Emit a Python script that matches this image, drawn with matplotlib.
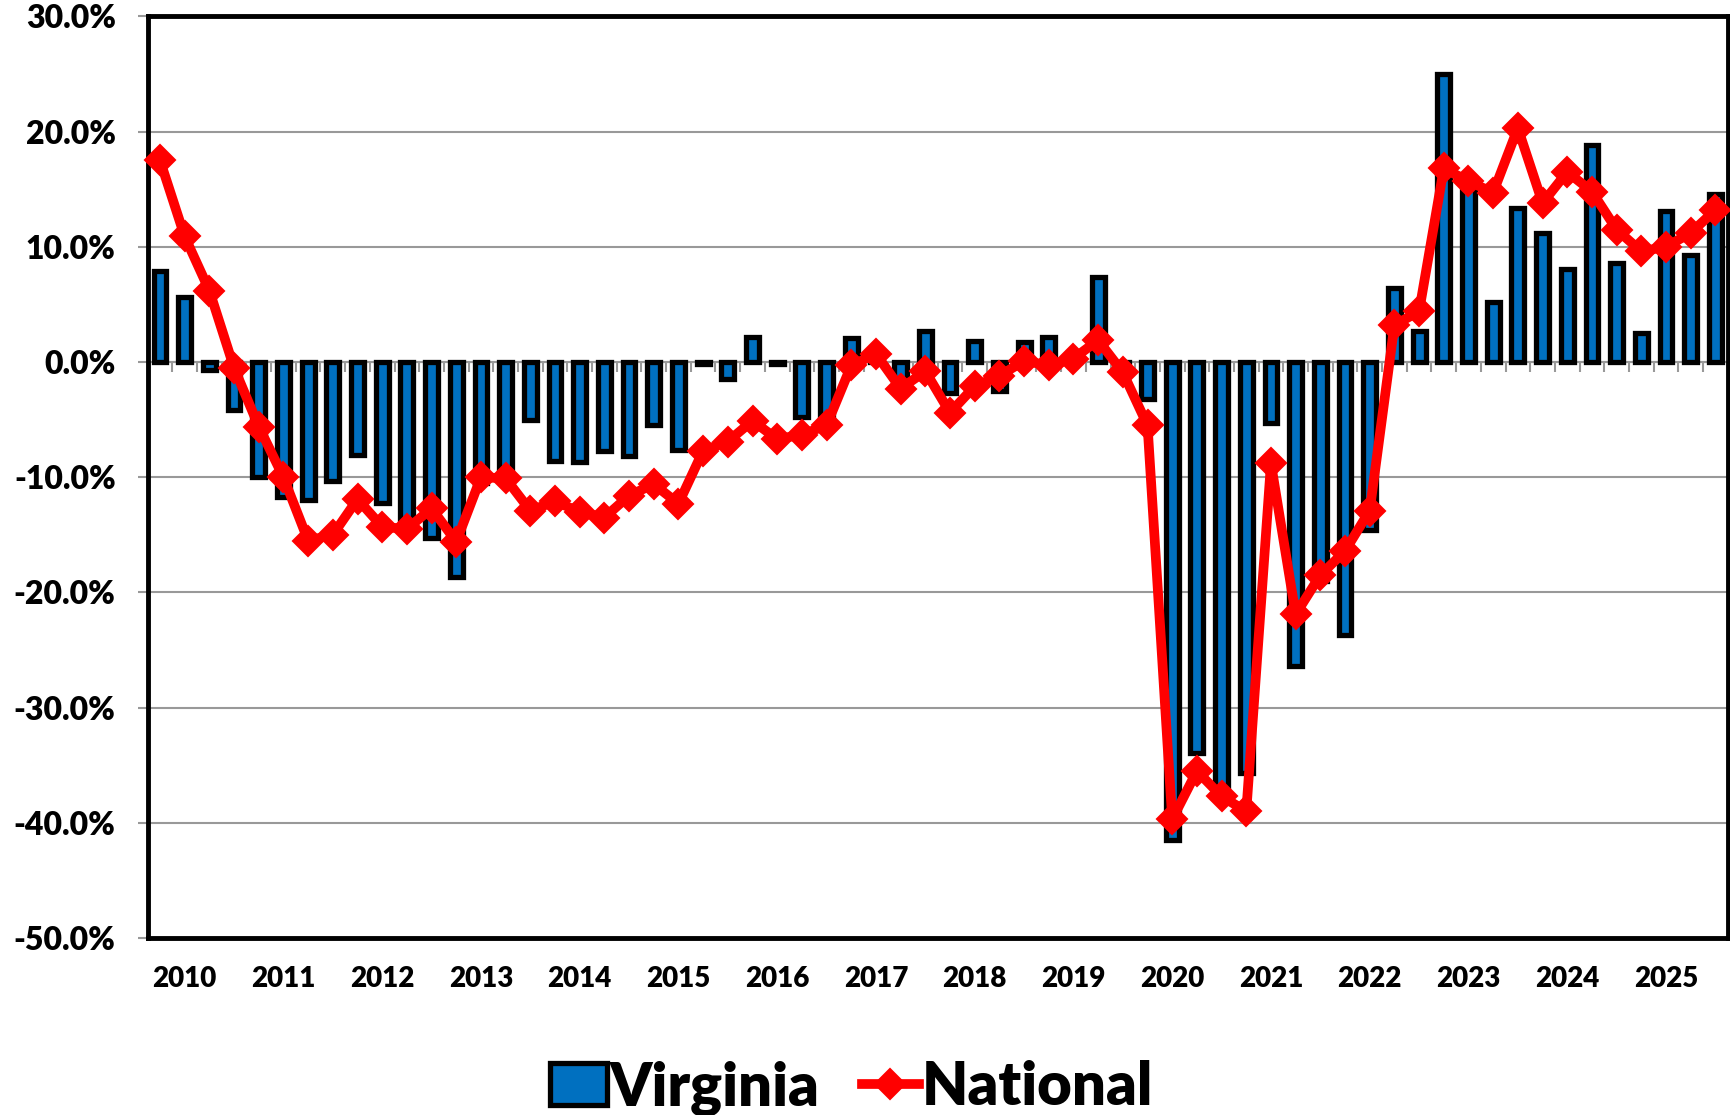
import matplotlib
matplotlib.use("Agg")
import matplotlib.pyplot as plt
from matplotlib.ticker import FuncFormatter
import numpy as np

# quarterly year-over-year change, 2010 Q1 .. 2025 Q4 (percent)
year_labels = [str(y) for y in range(2010, 2026)]

virginia = [
    7.9, 5.6, -0.7, -4.2,
    -10.0, -11.7, -12.0, -10.3,
    -8.1, -12.2, -14.0, -15.3,
    -18.7, -10.5, -10.2, -5.0,
    -8.6, -8.7, -7.7, -8.2,
    -5.5, -7.6, -0.2, -1.5,
    2.2, -0.2, -4.8, -5.2,
    2.1, 0.5, -2.5, 2.7,
    -2.7, 1.8, -2.5, 1.7,
    2.2, 0.4, 7.4, -0.8,
    -3.2, -41.5, -33.9, -37.5,
    -35.7, -5.3, -26.4, -19.0,
    -23.7, -14.6, 6.4, 2.7,
    25.0, 15.3, 5.2, 13.4,
    11.2, 8.1, 18.8, 8.6,
    2.5, 13.1, 9.3, 14.6,
]

national = [
    17.5, 10.9, 6.2, -0.5,
    -5.6, -10.0, -15.5, -15.0,
    -11.9, -14.3, -14.5, -12.7,
    -15.6, -10.0, -10.1, -12.9,
    -12.1, -13.0, -13.5, -11.6,
    -10.6, -12.3, -7.7, -6.9,
    -5.1, -6.7, -6.3, -5.5,
    -0.3, 0.7, -2.3, -0.8,
    -4.4, -2.1, -1.2, 0.1,
    -0.3, 0.3, 1.9, -0.9,
    -5.5, -39.7, -35.5, -37.7,
    -39.0, -8.8, -21.9, -18.5,
    -16.4, -12.9, 3.2, 4.4,
    16.8, 15.7, 14.7, 20.3,
    13.8, 16.5, 14.8, 11.5,
    9.6, 10.0, 11.2, 13.2,
]

plt.rcParams['font.family'] = ['Lato', 'DejaVu Sans']
plt.rcParams['font.weight'] = 'heavy'

fig = plt.figure(figsize=(17.31, 11.15), dpi=100)
ax = fig.add_axes([0.0853, 0.1587, 0.9128, 0.8266])

x = np.arange(len(virginia))
bars = ax.bar(x, virginia, width=0.52, color='#0070C0', edgecolor='black',
              linewidth=3.8, zorder=3, label='Virginia')
line, = ax.plot(x, national, color='#FF0000', lw=7, marker='D', ms=15,
                mec='#FF0000', mew=1.5, zorder=4, clip_on=False, label='National')

ymin, ymax = -50, 30
ax.set_xlim(-0.5, len(x) - 0.5)
ax.set_ylim(ymin, ymax)
ax.set_yticks(np.arange(ymin, ymax + 1, 10))
ax.yaxis.set_major_formatter(FuncFormatter(lambda v, _: f'{v:.1f}%'))
ax.yaxis.grid(True, color='#999999', lw=1.5, zorder=0)
ax.set_axisbelow(True)

ax.set_xticks(x[1::4])
ax.set_xticklabels(year_labels)
ax.tick_params(axis='x', length=0, pad=20, labelsize=20)
ax.tick_params(axis='y', length=7, width=1.5, color='#999999', pad=16, labelsize=23)

for s in ax.spines.values():
    s.set_linewidth(3.5)
    s.set_color('black')

# category axis crossing at zero, with small tick marks between quarters
sec = ax.secondary_xaxis((0 - ymin) / (ymax - ymin))
sec.set_alignment('bottom')
sec.set_xticks(np.arange(-0.5, len(x), 1))
sec.tick_params(direction='out', length=7, width=1.5, color='#999999', labelbottom=False)
sec.spines['bottom'].set_color('#999999')
sec.spines['bottom'].set_linewidth(1.5)

fig.legend([bars, line], ['Virginia', 'National'], loc='center',
           bbox_to_anchor=(0.492, 0.024), ncol=2, frameon=False,
           fontsize=43, handlelength=0.95, handletextpad=0.05, columnspacing=0.7)

fig.savefig('out.png', dpi=100)
